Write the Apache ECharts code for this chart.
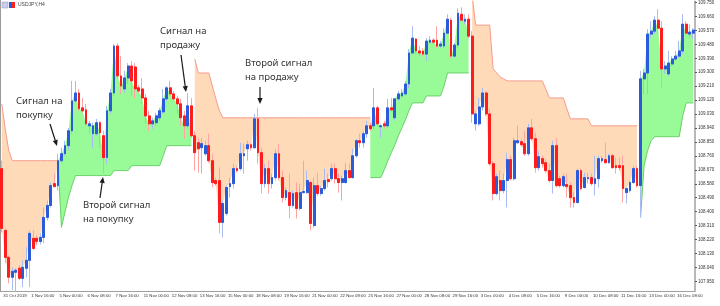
<!DOCTYPE html>
<html>
<head>
<meta charset="utf-8">
<script src="https://cdn.jsdelivr.net/npm/echarts@6/dist/echarts.min.js"></script>
<style>
html, body { margin: 0; padding: 0; background: #fff; }
#main { width: 720px; height: 306px; }
</style>
</head>
<body>
<div id="main"></div>
<script>
var xLabels = ['31 Oct 2019', '1 Nov 16:00', '5 Nov 00:00', '6 Nov 08:00', '7 Nov 16:00', '11 Nov 00:00',
    '12 Nov 08:00', '13 Nov 16:00', '15 Nov 00:00', '18 Nov 08:00', '19 Nov 16:00', '21 Nov 00:00',
    '22 Nov 08:00', '25 Nov 16:00', '27 Nov 00:00', '28 Nov 08:00', '29 Nov 16:00', '3 Dec 00:00',
    '4 Dec 08:00', '5 Dec 16:00', '9 Dec 00:00', '10 Dec 08:00', '11 Dec 16:00', '13 Dec 00:00', '16 Dec 08:00'];

var yTicks = [107.95, 108.04, 108.13, 108.22, 108.31, 108.40, 108.49, 108.58, 108.67, 108.76, 108.85,
    108.94, 109.03, 109.12, 109.21, 109.30, 109.39, 109.48, 109.57, 109.66, 109.75];

// USDJPY H4 bars
var open = [108.678, 108.279, 108.105, 107.977, 108.009, 108.035, 107.970, 108.035, 108.086, 108.228,
    108.228, 108.208, 108.234, 108.363, 108.440, 108.581, 108.568, 108.729, 108.774, 108.826,
    108.922, 109.115, 109.166, 109.070, 109.057, 108.954, 108.903, 108.903, 108.974, 108.890,
    108.749, 109.051, 109.166, 109.469, 109.276, 109.192, 109.263, 109.340, 109.334, 109.199,
    109.192, 109.134, 109.018, 108.967, 108.974, 109.006, 109.044, 109.128, 109.199, 109.160,
    109.128, 109.096, 109.018, 108.954, 109.083, 108.890, 108.845, 108.813, 108.774, 108.826,
    108.729, 108.601, 108.601, 108.331, 108.389, 108.562, 108.581, 108.678, 108.678, 108.761,
    108.806, 108.832, 108.813, 108.999, 108.781, 108.581, 108.678, 108.581, 108.620, 108.774,
    108.620, 108.491, 108.523, 108.440, 108.523, 108.421, 108.523, 108.523, 108.588, 108.311,
    108.568, 108.517, 108.549, 108.607, 108.613, 108.678, 108.613, 108.588, 108.588, 108.665,
    108.620, 108.761, 108.858, 108.845, 108.903, 108.954, 108.954, 109.070, 108.948, 108.967,
    108.954, 109.070, 109.006, 109.128, 109.147, 109.160, 109.224, 109.424, 109.514, 109.437,
    109.437, 109.417, 109.494, 109.507, 109.507, 109.469, 109.469, 109.552, 109.636, 109.404,
    109.475, 109.674, 109.629, 109.642, 109.533, 108.967, 108.967, 109.076, 109.166, 109.031,
    108.710, 108.517, 108.601, 108.536, 108.601, 108.736, 108.613, 108.845, 108.852, 108.839,
    108.774, 108.941, 108.871, 108.684, 108.742, 108.716, 108.665, 108.601, 108.826, 108.613,
    108.568, 108.575, 108.568, 108.491, 108.459, 108.665, 108.556, 108.613, 108.620, 108.581,
    108.613, 108.729, 108.736, 108.716, 108.761, 108.697, 108.697, 108.697, 108.523, 108.536,
    108.588, 108.678, 108.568, 109.257, 109.295, 109.546, 109.565, 109.636, 109.584, 109.321,
    109.289, 109.353, 109.385, 109.404, 109.437, 109.610, 109.546, 109.552];

var close = [108.292, 108.105, 107.977, 108.015, 108.022, 107.970, 108.041, 108.086, 108.260, 108.163,
    108.208, 108.234, 108.363, 108.440, 108.568, 108.562, 108.729, 108.774, 108.826, 108.922,
    109.115, 109.166, 109.064, 109.051, 108.967, 108.967, 108.954, 108.974, 108.909, 108.749,
    109.051, 109.166, 109.469, 109.276, 109.211, 109.263, 109.340, 109.244, 109.192, 109.179,
    109.134, 109.018, 108.967, 108.986, 109.018, 109.051, 109.128, 109.199, 109.160, 109.128,
    109.096, 109.006, 108.954, 109.083, 108.890, 108.781, 108.806, 108.839, 108.826, 108.729,
    108.588, 108.581, 108.331, 108.453, 108.556, 108.581, 108.678, 108.665, 108.774, 108.774,
    108.832, 108.813, 108.999, 108.781, 108.581, 108.678, 108.581, 108.620, 108.774, 108.620,
    108.491, 108.536, 108.440, 108.517, 108.421, 108.523, 108.530, 108.601, 108.324, 108.568,
    108.517, 108.549, 108.601, 108.594, 108.678, 108.613, 108.588, 108.613, 108.665, 108.620,
    108.761, 108.858, 108.845, 108.903, 108.954, 108.935, 109.070, 108.967, 108.954, 108.954,
    109.070, 109.057, 109.128, 109.160, 109.166, 109.224, 109.424, 109.520, 109.437, 109.424,
    109.417, 109.501, 109.507, 109.494, 109.469, 109.482, 109.552, 109.642, 109.404, 109.475,
    109.681, 109.636, 109.642, 109.533, 109.031, 109.031, 109.076, 109.166, 109.031, 108.710,
    108.517, 108.626, 108.536, 108.601, 108.736, 108.613, 108.858, 108.858, 108.832, 108.774,
    108.941, 108.871, 108.684, 108.755, 108.710, 108.665, 108.601, 108.826, 108.568, 108.568,
    108.626, 108.562, 108.491, 108.459, 108.665, 108.549, 108.620, 108.620, 108.581, 108.613,
    108.742, 108.742, 108.716, 108.761, 108.684, 108.684, 108.684, 108.549, 108.549, 108.588,
    108.678, 108.568, 109.257, 109.295, 109.546, 109.565, 109.636, 109.584, 109.321, 109.340,
    109.359, 109.385, 109.404, 109.437, 109.610, 109.552, 109.559, 109.572];

var low = [108.266, 108.067, 107.938, 107.893, 107.880, 107.958, 107.913, 107.977, 107.913, 108.151,
    108.183, 108.189, 108.196, 108.343, 108.427, 108.556, 108.536, 108.716, 108.761, 108.794,
    108.903, 109.102, 109.051, 109.038, 108.954, 108.903, 108.813, 108.890, 108.813, 108.646,
    108.710, 109.031, 109.147, 109.257, 109.160, 109.166, 109.224, 109.147, 109.134, 109.166,
    109.096, 108.967, 108.922, 108.935, 108.954, 108.986, 109.031, 109.115, 109.147, 109.115,
    109.031, 108.954, 108.871, 108.935, 108.877, 108.665, 108.652, 108.646, 108.761, 108.716,
    108.556, 108.568, 108.260, 108.234, 108.376, 108.491, 108.549, 108.652, 108.665, 108.646,
    108.729, 108.794, 108.806, 108.710, 108.517, 108.556, 108.517, 108.549, 108.601, 108.601,
    108.459, 108.472, 108.356, 108.427, 108.356, 108.408, 108.517, 108.517, 108.279, 108.298,
    108.504, 108.504, 108.536, 108.556, 108.601, 108.581, 108.523, 108.472, 108.581, 108.613,
    108.613, 108.749, 108.813, 108.813, 108.877, 108.922, 108.935, 108.954, 108.877, 108.935,
    108.941, 109.044, 108.986, 109.115, 109.134, 109.147, 109.199, 109.417, 109.417, 109.404,
    109.404, 109.372, 109.482, 109.482, 109.456, 109.456, 109.456, 109.546, 109.392, 109.392,
    109.456, 109.629, 109.610, 109.520, 108.974, 108.922, 108.954, 109.051, 109.018, 108.697,
    108.472, 108.504, 108.472, 108.517, 108.427, 108.601, 108.601, 108.839, 108.819, 108.761,
    108.761, 108.858, 108.652, 108.665, 108.684, 108.652, 108.588, 108.517, 108.556, 108.556,
    108.556, 108.491, 108.427, 108.427, 108.453, 108.536, 108.549, 108.581, 108.568, 108.504,
    108.556, 108.716, 108.710, 108.710, 108.678, 108.646, 108.665, 108.459, 108.453, 108.523,
    108.581, 108.556, 108.363, 109.160, 109.160, 109.520, 109.546, 109.552, 109.199, 109.289,
    109.276, 109.340, 109.372, 109.392, 109.417, 109.546, 109.520, 109.514];

var high = [108.729, 108.292, 108.118, 108.041, 108.035, 108.054, 108.086, 108.170, 108.279, 108.279,
    108.247, 108.260, 108.427, 108.472, 108.588, 108.646, 108.774, 108.813, 108.858, 108.941,
    109.244, 109.244, 109.192, 109.134, 109.096, 108.986, 108.974, 108.999, 108.986, 108.922,
    109.083, 109.192, 109.482, 109.488, 109.404, 109.308, 109.359, 109.372, 109.359, 109.218,
    109.263, 109.160, 109.051, 109.006, 109.038, 109.070, 109.192, 109.211, 109.244, 109.179,
    109.147, 109.128, 109.051, 109.166, 109.134, 108.922, 108.877, 108.877, 108.858, 108.903,
    108.774, 108.620, 108.684, 108.472, 108.568, 108.620, 108.710, 108.697, 108.845, 108.839,
    108.858, 108.845, 109.031, 109.070, 108.813, 108.710, 108.729, 108.646, 108.806, 108.839,
    108.665, 108.556, 108.646, 108.536, 108.588, 108.581, 108.729, 108.665, 108.601, 108.620,
    108.652, 108.568, 108.678, 108.646, 108.710, 108.710, 108.646, 108.633, 108.716, 108.710,
    108.806, 108.871, 108.903, 108.922, 108.986, 108.974, 109.199, 109.083, 108.967, 108.986,
    109.128, 109.134, 109.134, 109.179, 109.192, 109.244, 109.449, 109.597, 109.520, 109.469,
    109.456, 109.520, 109.533, 109.520, 109.597, 109.501, 109.584, 109.674, 109.649, 109.488,
    109.713, 109.719, 109.674, 109.674, 109.565, 109.051, 109.134, 109.199, 109.179, 109.064,
    108.729, 108.646, 108.665, 108.646, 108.781, 108.761, 108.877, 108.954, 108.871, 108.922,
    108.967, 108.999, 108.909, 108.794, 108.761, 108.742, 108.710, 108.858, 108.877, 108.633,
    108.646, 108.646, 108.588, 108.523, 108.678, 108.678, 108.652, 108.652, 108.646, 108.761,
    108.761, 108.761, 108.845, 108.774, 108.774, 108.749, 108.749, 108.761, 108.556, 108.601,
    108.697, 108.697, 109.308, 109.321, 109.578, 109.629, 109.662, 109.707, 109.629, 109.372,
    109.437, 109.404, 109.437, 109.501, 109.674, 109.629, 109.610, 109.584];

// trailing stop: support while trend is up, resistance while it is down
var upLine = [null, null, null, null, null, null, null, null, null, null,
    null, null, null, null, null, null, 108.729, 108.298, 108.395, 108.491,
    108.568, 108.633, 108.633, 108.633, 108.633, 108.633, 108.633, 108.633, 108.633, 108.633,
    108.633, 108.633, 108.665, 108.665, 108.665, 108.665, 108.665, 108.697, 108.697, 108.697,
    108.697, 108.697, 108.697, 108.697, 108.697, 108.697, 108.761, 108.826, 108.826, 108.826,
    108.826, 108.826, 108.826, 108.826, 108.826, null, null, null, null, null,
    null, null, null, null, null, null, null, null, null, null,
    null, null, null, null, null, null, null, null, null, null,
    null, null, null, null, null, null, null, null, null, null,
    null, null, null, null, null, null, null, null, null, null,
    null, null, null, null, null, 108.620, 108.620, 108.620, 108.620, 108.671,
    108.729, 108.781, 108.832, 108.890, 108.941, 108.993, 109.051, 109.102, 109.102, 109.102,
    109.102, 109.147, 109.147, 109.147, 109.147, 109.147, 109.211, 109.295, 109.295, 109.295,
    109.295, 109.295, 109.295, 109.295, null, null, null, null, null, null,
    null, null, null, null, null, null, null, null, null, null,
    null, null, null, null, null, null, null, null, null, null,
    null, null, null, null, null, null, null, null, null, null,
    null, null, null, null, null, null, null, null, null, null,
    null, null, 108.363, 108.697, 108.794, 108.858, 108.884, 108.884, 108.884, 108.884,
    108.884, 108.884, 108.884, 108.884, 109.018, 109.102, 109.102, 109.102];

var downLine = [109.096, 108.935, 108.794, 108.729, 108.729, 108.729, 108.729, 108.729, 108.729, 108.729,
    108.729, 108.729, 108.729, 108.729, 108.729, 108.729, 108.729, null, null, null,
    null, null, null, null, null, null, null, null, null, null,
    null, null, null, null, null, null, null, null, null, null,
    null, null, null, null, null, null, null, null, null, null,
    null, null, null, null, null, 109.385, 109.295, 109.295, 109.295, 109.295,
    109.211, 109.128, 109.051, 109.006, 109.006, 109.006, 109.006, 109.006, 109.006, 109.006,
    109.006, 109.006, 109.006, 109.006, 109.006, 109.006, 109.006, 109.006, 109.006, 109.006,
    109.006, 109.006, 109.006, 109.006, 109.006, 109.006, 109.006, 109.006, 109.006, 109.006,
    109.006, 109.006, 109.006, 109.006, 109.006, 109.006, 109.006, 109.006, 109.006, 109.006,
    109.006, 109.006, 109.006, 109.006, 109.006, 109.006, null, null, null, null,
    null, null, null, null, null, null, null, null, null, null,
    null, null, null, null, null, null, null, null, null, null,
    null, null, null, null, 109.800, 109.604, 109.604, 109.604, 109.604, 109.604,
    109.321, 109.295, 109.269, 109.257, 109.244, 109.244, 109.244, 109.244, 109.244, 109.244,
    109.244, 109.244, 109.244, 109.244, 109.244, 109.192, 109.134, 109.134, 109.134, 109.134,
    109.134, 109.064, 108.999, 108.999, 108.999, 108.999, 108.999, 108.999, 108.954, 108.954,
    108.954, 108.954, 108.954, 108.954, 108.954, 108.954, 108.954, 108.954, 108.954, 108.954,
    108.954, 108.954, null, null, null, null, null, null, null, null,
    null, null, null, null, null, null, null, null];

var cats = close.map(function (v, i) { return String(i); });

var pBase = downLine.map(function (v, i) { return v === null ? '-' : close[i]; });
var pFill = downLine.map(function (v, i) { return v === null ? '-' : +(v - close[i]).toFixed(3); });
var gBase = upLine.map(function (v) { return v === null ? '-' : v; });
var gFill = upLine.map(function (v, i) { return v === null ? '-' : +(close[i] - v).toFixed(3); });

var wickData = open.map(function (o, i) { return [o, close[i], low[i], high[i]]; });
var bodyData = open.map(function (o, i) {
    return [o, close[i], Math.min(o, close[i]), Math.max(o, close[i])];
});

function arrow(x1, y1, x2, y2) {
    var a = Math.atan2(y2 - y1, x2 - x1), L = 6, W = 2.6;
    var bx = x2 - L * Math.cos(a), by = y2 - L * Math.sin(a);
    return [
        { type: 'line', shape: { x1: x1, y1: y1, x2: bx, y2: by }, style: { stroke: '#1a1a1a', lineWidth: 1.2 }, z: 100 },
        { type: 'polygon', shape: { points: [[x2, y2], [bx + W * Math.sin(a), by - W * Math.cos(a)], [bx - W * Math.sin(a), by + W * Math.cos(a)]] },
          style: { fill: '#1a1a1a' }, z: 100 }
    ];
}

function note(x, y, txt) {
    return { type: 'text', left: x, top: y, z: 100,
        style: { text: txt, fill: '#333', font: '9.5px "Noto Sans", sans-serif', lineHeight: 13.5 } };
}

var graphics = [
    { type: 'line', shape: { x1: 0.5, y1: 0, x2: 0.5, y2: 291 }, style: { stroke: '#9a9a9a', lineWidth: 1 } },
    { type: 'rect', shape: { x: 2, y: 2, width: 6, height: 6 }, style: { fill: '#c9cde8', stroke: '#8c95c8', lineWidth: 0.5 } },
    { type: 'rect', shape: { x: 9, y: 2, width: 3, height: 6 }, style: { fill: '#2a5bd8' } },
    { type: 'rect', shape: { x: 12, y: 2, width: 3, height: 6 }, style: { fill: '#ff2020' } },
    { type: 'text', left: 18, top: 2.5, style: { text: 'USDJPY,H4', fill: '#444', font: '5px "Liberation Sans", sans-serif' } },
    note(16, 95, 'Сигнал на\nпокупку'),
    note(83, 199, 'Второй сигнал\nна покупку'),
    note(160, 25, 'Сигнал на\nпродажу'),
    note(245, 57, 'Второй сигнал\nна продажу')
];
graphics = graphics.concat(arrow(50, 124, 57, 146), arrow(100, 198, 103, 177),
    arrow(181, 55, 186, 92), arrow(260, 87, 260, 104));

var option = {
    animation: false,
    backgroundColor: '#ffffff',
    grid: { left: 0, right: 25, top: 0, bottom: 15 },
    xAxis: {
        type: 'category',
        data: cats,
        boundaryGap: true,
        axisLine: { lineStyle: { color: '#a0a0a0', width: 1 } },
        axisTick: { interval: function (i) { return i % 8 === 0; }, alignWithLabel: true, length: 3, lineStyle: { color: '#666' } },
        axisLabel: {
            interval: function (i) { return i % 8 === 0; },
            formatter: function (v, i) { return xLabels[i / 8] || ''; },
            align: 'left', margin: 3, padding: [0, 0, 0, 1.5],
            fontSize: 4.3, color: '#333', fontFamily: 'Liberation Sans'
        },
        splitLine: { show: false }
    },
    yAxis: {
        type: 'value',
        position: 'right',
        min: 107.888,
        max: 109.758,
        axisLine: { show: true, lineStyle: { color: '#a0a0a0', width: 1.5 } },
        axisTick: { show: true, customValues: yTicks, length: 2, lineStyle: { color: '#555' } },
        axisLabel: {
            customValues: yTicks,
            formatter: function (v) { return v.toFixed(3); },
            fontSize: 4.5, color: '#333', margin: 3, fontFamily: 'Liberation Sans'
        },
        splitLine: { show: false }
    },
    series: [
        { name: 'pBase', type: 'line', data: pBase, stack: 'p', stackStrategy: 'all', symbol: 'none',
          lineStyle: { opacity: 0 }, silent: true, z: 1 },
        { name: 'pFill', type: 'line', data: pFill, stack: 'p', stackStrategy: 'all', symbol: 'none',
          lineStyle: { opacity: 0 }, areaStyle: { color: '#ffdab9', opacity: 1 }, silent: true, z: 1 },
        { name: 'gBase', type: 'line', data: gBase, stack: 'g', stackStrategy: 'all', symbol: 'none',
          lineStyle: { opacity: 0 }, silent: true, z: 1 },
        { name: 'gFill', type: 'line', data: gFill, stack: 'g', stackStrategy: 'all', symbol: 'none',
          lineStyle: { opacity: 0 }, areaStyle: { color: '#98fb98', opacity: 1 }, silent: true, z: 1 },
        { name: 'down', type: 'line', data: downLine.map(function (v) { return v === null ? '-' : v; }),
          symbol: 'none', lineStyle: { color: '#f59a8c', width: 1 }, silent: true, z: 2 },
        { name: 'up', type: 'line', data: gBase,
          symbol: 'none', lineStyle: { color: '#6ccf6c', width: 1 }, silent: true, z: 2 },
        { name: 'wicks', type: 'candlestick', data: wickData, barWidth: 2.3, silent: true, z: 3,
          itemStyle: { color: '#a9bcf2', color0: '#ffa3a3', borderColor: '#a9bcf2', borderColor0: '#ffa3a3',
                       borderColorDoji: '#a9bcf2', borderWidth: 1 } },
        { name: 'bodies', type: 'candlestick', data: bodyData, barWidth: 2.3, silent: true, z: 4,
          itemStyle: { color: '#2a5bd8', color0: '#ff1c1c', borderColor: '#2a5bd8', borderColor0: '#ff1c1c',
                       borderColorDoji: '#2a5bd8', borderWidth: 1 } }
    ],
    graphic: graphics
};

var chart = echarts.init(document.getElementById('main'));
chart.setOption(option);
</script>
</body>
</html>
